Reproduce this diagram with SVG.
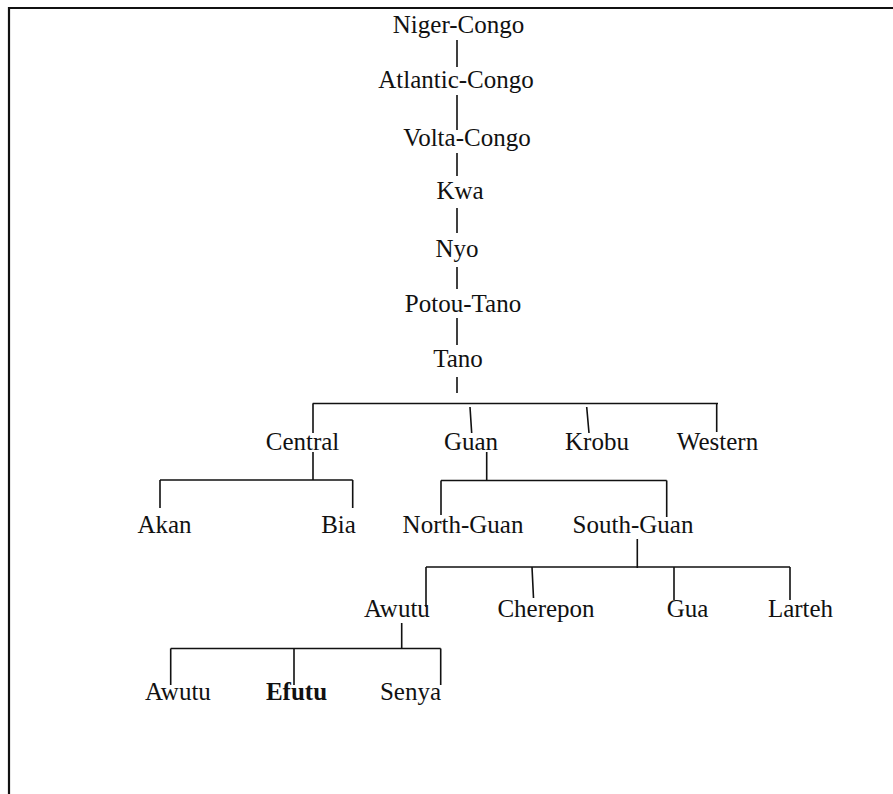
<svg xmlns="http://www.w3.org/2000/svg" width="893" height="794" viewBox="0 0 893 794">
<style>
  text { font-family: "Liberation Serif", "Times New Roman", serif; font-size: 25px; fill: #111; text-anchor: middle; }
  .b { font-weight: bold; }
  .c { stroke: #111; stroke-width: 1.6; fill: none; }
</style>
<rect x="0" y="0" width="893" height="794" fill="#fff"/>
<path d="M9,794 V8 H893" fill="none" stroke="#111" stroke-width="2.2"/>
<g id="connectors" class="c">
  <path d="M457,40 V67 M457,95 V130 M457,153 V176 M457,208 V233 M457,267 V289 M457,318 V345 M457,377 V393"/>
  <path d="M312.7,403.5 H718"/>
  <path d="M313,403.5 V433 M470,407 L471.7,433 M586.7,407 L589,433 M716.7,404 V432"/>
  <path d="M313,452 V480 M160,480 H352.7 M160,480 V508 M352.7,480 V508"/>
  <path d="M486.7,452 V480.5 M441,480.5 H666.7 M441,480.5 V515 M666.7,480.5 V517"/>
  <path d="M637.3,539 V568 M426,567 H790 M426,567 V607 M532,567 L533.5,598 M674,567 V600 M790,567 V600"/>
  <path d="M401.7,623 V649 M170.7,648.5 H440.7 M170.7,648.5 V685 M294,648.5 V685 M440.7,648.5 V685"/>
</g>
<g id="niger-congo"><text x="458.5" y="33">Niger-Congo</text></g>
<g id="atlantic-congo"><text x="456" y="88">Atlantic-Congo</text></g>
<g id="volta-congo"><text x="467" y="146">Volta-Congo</text></g>
<g id="kwa"><text x="460" y="199">Kwa</text></g>
<g id="nyo"><text x="457" y="257">Nyo</text></g>
<g id="potou-tano"><text x="463" y="312">Potou-Tano</text></g>
<g id="tano"><text x="458" y="367">Tano</text></g>
<g id="central"><text x="302.5" y="450">Central</text></g>
<g id="guan"><text x="471" y="450">Guan</text></g>
<g id="krobu"><text x="597" y="450">Krobu</text></g>
<g id="western"><text x="717.5" y="450">Western</text></g>
<g id="akan"><text x="164.5" y="533">Akan</text></g>
<g id="bia"><text x="338.5" y="533">Bia</text></g>
<g id="north-guan"><text x="463" y="533">North-Guan</text></g>
<g id="south-guan"><text x="633" y="533">South-Guan</text></g>
<g id="awutu-group"><text x="397" y="617">Awutu</text></g>
<g id="cherepon"><text x="546" y="617">Cherepon</text></g>
<g id="gua"><text x="687.5" y="617">Gua</text></g>
<g id="larteh"><text x="800.5" y="617">Larteh</text></g>
<g id="awutu"><text x="178" y="700">Awutu</text></g>
<g id="efutu"><text class="b" x="296.5" y="700">Efutu</text></g>
<g id="senya"><text x="410.5" y="700">Senya</text></g>
</svg>
